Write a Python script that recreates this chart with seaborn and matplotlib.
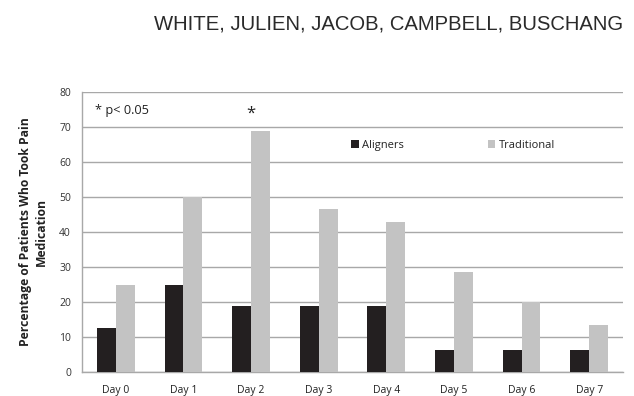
import matplotlib
matplotlib.use("Agg")
import matplotlib.pyplot as plt
import seaborn as sns
import pandas as pd
from matplotlib.ticker import FixedLocator

days = ["Day 0", "Day 1", "Day 2", "Day 3", "Day 4", "Day 5", "Day 6", "Day 7"]
aligners = [12.5, 25.0, 18.75, 18.75, 18.75, 6.25, 6.25, 6.25]
traditional = [25.0, 50.0, 68.75, 46.7, 42.9, 28.6, 20.0, 13.3]
groups = ["Aligners", "Traditional"]
colors = ["#231f20", "#c3c3c3"]
yticks = [0, 10, 20, 30, 40, 50, 60, 70, 80]

df = pd.DataFrame({
    "day": days * 2,
    "group": [groups[0]] * len(days) + [groups[1]] * len(days),
    "pct": aligners + traditional,
})

sns.set_theme(style="white")
plt.rcParams["font.family"] = ["Open Sans", "DejaVu Sans"]

fig = plt.figure(figsize=(6.34, 3.96), dpi=100)
ax = fig.add_axes([82 / 634, 24 / 396, 541 / 634, 280 / 396])

sns.barplot(data=df, x="day", y="pct", hue="group", palette=colors,
            width=0.56, saturation=1, linewidth=0, ax=ax, legend=True, zorder=3)

ax.set_ylim(0, 80)
ax.set_xlim(-0.5, len(days) - 0.5)
ax.set_yticks(yticks)
ax.yaxis.grid(True, color="#a8a8a8", linewidth=1.0, zorder=0)
ax.set_axisbelow(True)

for s in ["top", "right"]:
    ax.spines[s].set_visible(False)
for s in ["left", "bottom"]:
    ax.spines[s].set_color("#a8a8a8")
    ax.spines[s].set_linewidth(1.0)

ax.tick_params(axis="y", length=4, color="#a8a8a8", labelsize=7.5, labelcolor="#333333", pad=4)
ax.tick_params(axis="x", which="major", length=0, labelsize=7.5, labelcolor="#222222", pad=9)
ax.xaxis.set_minor_locator(FixedLocator([i - 0.5 for i in range(len(days) + 1)]))
ax.tick_params(axis="x", which="minor", length=4, color="#a8a8a8", direction="out")

ax.set_xlabel("")
ax.set_ylabel("Percentage of Patients Who Took Pain\nMedication", fontsize=8.7,
              fontweight="bold", color="#222222", labelpad=8, linespacing=1.25)

leg = ax.legend(loc="center", bbox_to_anchor=(0.686, 0.81), ncol=2, frameon=False,
                fontsize=8, handlelength=0.7, handleheight=0.7, handletextpad=0.3,
                columnspacing=7.5)
for t in leg.get_texts():
    t.set_color("#222222")

ax.text(0.024, 0.935, "* p< 0.05", transform=ax.transAxes, fontsize=9.2,
        color="#222222", va="center", ha="left")
ax.text(2, 73.8, "*", fontsize=12, color="#222222", ha="center", va="center")

fig.text(623 / 634, 1 - 24 / 396, "WHITE, JULIEN, JACOB, CAMPBELL, BUSCHANG",
         ha="right", va="center", fontsize=14.6, family="Liberation Sans",
         color="#2a2a2a")

fig.savefig("out.png", dpi=100, facecolor="white")
